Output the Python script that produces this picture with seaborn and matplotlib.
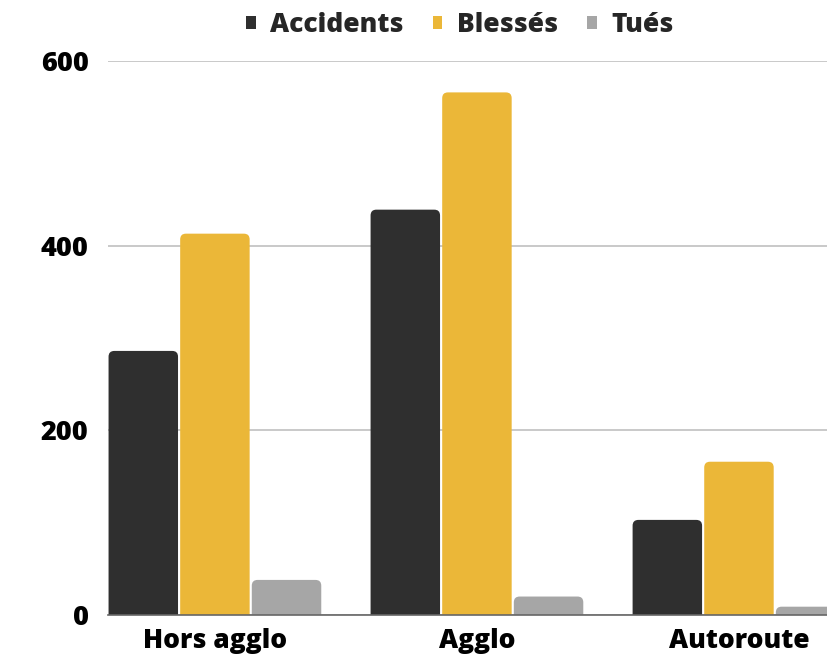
import numpy as np
import pandas as pd
import seaborn as sns
import matplotlib.pyplot as plt
from matplotlib.patches import FancyBboxPatch, Patch

# data
zones = ['Hors agglo', 'Agglo', 'Autoroute']
series = ['Accidents', 'Blessés', 'Tués']
accidents = [286, 439, 103]
blesses = [413, 566, 166]
tues = [38, 20, 9]
yticks = [0, 200, 400, 600]

colors = {'Accidents': '#2f2f2f', 'Blessés': '#ebb738', 'Tués': '#a6a6a6'}

df = pd.DataFrame({
    'zone': zones * 3,
    'serie': [s for s in series for _ in zones],
    'valeur': accidents + blesses + tues,
})

sns.set_theme(style='white')
plt.rcParams['font.family'] = ['Open Sans', 'DejaVu Sans']
plt.rcParams['font.weight'] = 'bold'

fig = plt.figure(figsize=(8.27, 6.6), dpi=100)
ax = fig.add_axes([108 / 827, 45 / 660, 1 - 108 / 827, 554 / 660])

sns.barplot(data=df, x='zone', y='valeur', hue='serie', order=zones,
            hue_order=series, palette=colors, width=0.82, gap=0.03,
            saturation=1, legend=False, ax=ax)

# rounded tops
r_x = 0.022
aspect = (554 / 600) ** -1 * 262 / 1  # data-y per data-x for equal px radius
for p in list(ax.patches):
    x, y = p.get_x(), p.get_y()
    w, h = p.get_width(), p.get_height()
    fc = p.get_facecolor()
    p.remove()
    ext = r_x * aspect
    fb = FancyBboxPatch((x, y - ext), w, h + ext,
                        boxstyle=f'round,pad=0,rounding_size={r_x}',
                        mutation_aspect=aspect, facecolor=fc,
                        edgecolor='none', clip_on=True)
    ax.add_patch(fb)

ax.set_xlim(-0.408, 2.336)
ax.set_ylim(0, 600)
ax.set_yticks(yticks)
ax.set_yticklabels([str(t) for t in yticks], fontsize=19.5, fontweight='heavy')
ax.set_xticks(range(len(zones)))
ax.set_xticklabels(zones, fontsize=19, fontweight='heavy')
ax.tick_params(axis='y', length=0, pad=14, colors='black')
ax.tick_params(axis='x', length=0, pad=9, colors='black')
ax.set_xlabel('')
ax.set_ylabel('')
ax.yaxis.grid(True, color='#c0c0c0', linewidth=1.2)
ax.set_axisbelow(True)
for s in ['top', 'right', 'left']:
    ax.spines[s].set_visible(False)
ax.spines['bottom'].set_color('#666666')
ax.spines['bottom'].set_linewidth(1.2)

handles = [Patch(facecolor=colors[s], edgecolor='none') for s in series]
fig.legend(handles, series, loc='upper center', bbox_to_anchor=(0.556, 1.018),
           ncol=3, frameon=False, handlelength=0.37, handleheight=0.37,
           handletextpad=0.55, columnspacing=1.1,
           prop={'family': 'Open Sans', 'weight': 'heavy', 'size': 19})

fig.savefig('out.png', dpi=100, facecolor='white')
